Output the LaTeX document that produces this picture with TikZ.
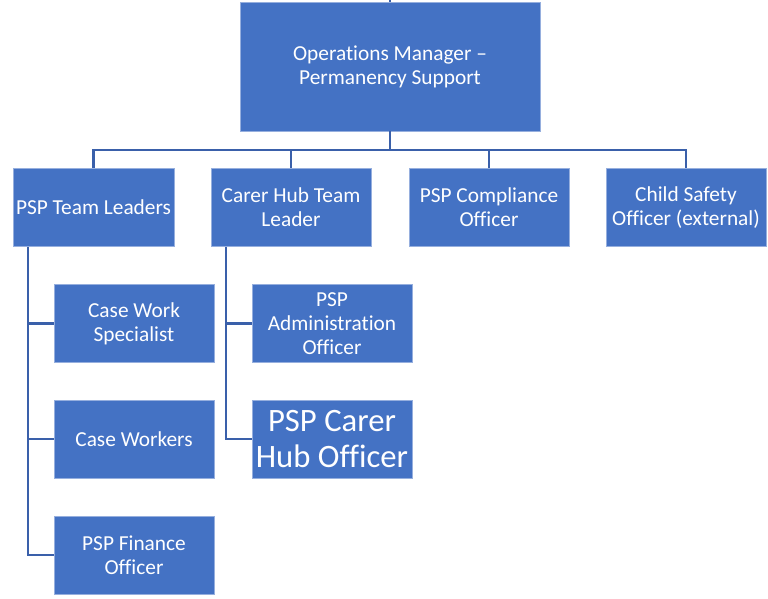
\documentclass[tikz,border=0pt]{standalone}
\usepackage{fontspec}
\setmainfont[Ligatures=NoCommon]{Carlito}
\definecolor{boxfill}{RGB}{68,114,196}
\definecolor{boxedge}{RGB}{150,175,222}
\definecolor{linecol}{RGB}{58,96,170}
\tikzset{
  orgbox/.style={rectangle, fill=boxfill, draw=boxedge, line width=0.6pt, text=white,
    align=center, inner sep=1pt, font=\fontsize{16}{18}\selectfont},
  lvl/.style={orgbox, minimum width=120pt, minimum height=59pt},
  conn/.style={draw=linecol, line width=2.2pt}
}
\begin{document}
\begin{tikzpicture}[x=0.75pt,y=-0.75pt]
\useasboundingbox (0,0) rectangle (768,599);
% top level
\node[orgbox, minimum width=225pt, minimum height=96.75pt] (mgr) at (390,66.5) {Operations Manager --\\Permanency Support};
% second level
\node[lvl, minimum width=120.75pt] (tl) at (93.5,207.5) {PSP Team Leaders};
\node[lvl] (chtl) at (291,207.5) {Carer Hub Team\\Leader};
\node[lvl] (comp) at (489,207.5) {PSP Compliance\\Officer};
\node[lvl] (cso) at (686,207.5) {Child Safety\\Officer (external)};
% third level
\node[lvl, minimum height=58.5pt] (cws) at (134,323.5) {Case Work\\Specialist};
\node[lvl, minimum height=58.5pt] (cw) at (134,439) {Case Workers};
\node[lvl, minimum height=58.5pt] (fin) at (134,555) {PSP Finance\\Officer};
\node[lvl, minimum height=58.5pt] (adm) at (332,323.5) {PSP\\Administration\\Officer};
\node[lvl, minimum height=58.5pt, font=\fontsize{24.5}{27.5}\selectfont] (chub) at (332,439) {PSP Carer\\Hub Officer};
% connectors
\coordinate (top) at (390,-12);
\coordinate (bus) at (390,150);
\coordinate (tlb) at (28,247.5);
\coordinate (chb) at (226,247.5);
\draw[conn] (top) -- (mgr.north);
\draw[conn] (mgr.south) -- (bus);
\draw[conn] (tl.north) |- (bus) -| (cso.north);
\draw[conn] (chtl.north) -- (chtl.north |- bus);
\draw[conn] (comp.north) -- (comp.north |- bus);
\draw[conn] (tlb) |- (fin.west);
\draw[conn] (tlb |- cws.west) -- (cws.west);
\draw[conn] (tlb |- cw.west) -- (cw.west);
\draw[conn] (chb) |- (chub.west);
\draw[conn] (chb |- adm.west) -- (adm.west);
\end{tikzpicture}
\end{document}
